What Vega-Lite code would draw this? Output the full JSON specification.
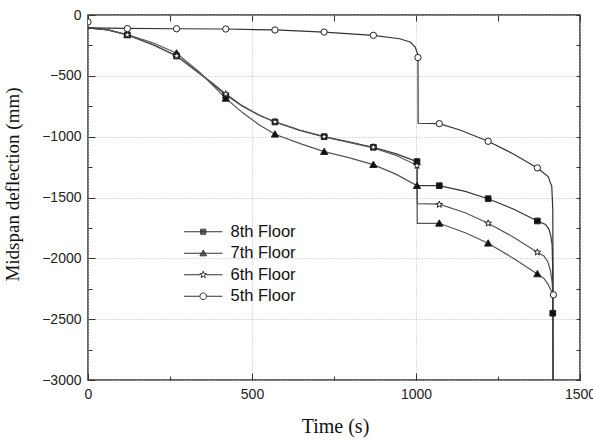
{
  "$schema": "https://vega.github.io/schema/vega-lite/v6.json",
  "width": 492,
  "height": 365,
  "autosize": "none",
  "padding": {"left": 88, "top": 15, "right": 13, "bottom": 60},
  "background": "white",
  "config": {
    "view": {"stroke": "#333", "strokeWidth": 1.5},
    "axis": {"labelFont": "Liberation Sans", "labelFontSize": 14, "labelColor": "#222", "titleFont": "Liberation Serif", "titleFontWeight": "normal", "titleColor": "#111", "tickColor": "#333", "domain": false}
  },
  "datasets": {
    "curves": [
      {"floor": "8th Floor", "t": 0, "d": -105}, {"floor": "8th Floor", "t": 60, "d": -122}, {"floor": "8th Floor", "t": 120, "d": -164}, {"floor": "8th Floor", "t": 200, "d": -245}, {"floor": "8th Floor", "t": 270, "d": -337}, {"floor": "8th Floor", "t": 340, "d": -480}, {"floor": "8th Floor", "t": 380, "d": -565}, {"floor": "8th Floor", "t": 420, "d": -655}, {"floor": "8th Floor", "t": 470, "d": -748}, {"floor": "8th Floor", "t": 520, "d": -822}, {"floor": "8th Floor", "t": 570, "d": -879}, {"floor": "8th Floor", "t": 645, "d": -945}, {"floor": "8th Floor", "t": 720, "d": -1000}, {"floor": "8th Floor", "t": 795, "d": -1042}, {"floor": "8th Floor", "t": 870, "d": -1087}, {"floor": "8th Floor", "t": 940, "d": -1142}, {"floor": "8th Floor", "t": 1003, "d": -1205}, {"floor": "8th Floor", "t": 1004, "d": -1403}, {"floor": "8th Floor", "t": 1071, "d": -1403}, {"floor": "8th Floor", "t": 1150, "d": -1450}, {"floor": "8th Floor", "t": 1220, "d": -1510}, {"floor": "8th Floor", "t": 1300, "d": -1598}, {"floor": "8th Floor", "t": 1370, "d": -1693}, {"floor": "8th Floor", "t": 1395, "d": -1722}, {"floor": "8th Floor", "t": 1405, "d": -1760}, {"floor": "8th Floor", "t": 1411, "d": -1815}, {"floor": "8th Floor", "t": 1415, "d": -1890}, {"floor": "8th Floor", "t": 1416.5, "d": -2050}, {"floor": "8th Floor", "t": 1417, "d": -2451}, {"floor": "8th Floor", "t": 1417.3, "d": -3000},
      {"floor": "7th Floor", "t": 0, "d": -105}, {"floor": "7th Floor", "t": 60, "d": -120}, {"floor": "7th Floor", "t": 120, "d": -160}, {"floor": "7th Floor", "t": 200, "d": -230}, {"floor": "7th Floor", "t": 270, "d": -314}, {"floor": "7th Floor", "t": 340, "d": -470}, {"floor": "7th Floor", "t": 380, "d": -575}, {"floor": "7th Floor", "t": 420, "d": -685}, {"floor": "7th Floor", "t": 470, "d": -800}, {"floor": "7th Floor", "t": 520, "d": -900}, {"floor": "7th Floor", "t": 570, "d": -980}, {"floor": "7th Floor", "t": 645, "d": -1055}, {"floor": "7th Floor", "t": 720, "d": -1123}, {"floor": "7th Floor", "t": 795, "d": -1172}, {"floor": "7th Floor", "t": 870, "d": -1230}, {"floor": "7th Floor", "t": 940, "d": -1310}, {"floor": "7th Floor", "t": 1003, "d": -1403}, {"floor": "7th Floor", "t": 1004, "d": -1712}, {"floor": "7th Floor", "t": 1071, "d": -1712}, {"floor": "7th Floor", "t": 1150, "d": -1790}, {"floor": "7th Floor", "t": 1220, "d": -1876}, {"floor": "7th Floor", "t": 1300, "d": -2005}, {"floor": "7th Floor", "t": 1370, "d": -2128}, {"floor": "7th Floor", "t": 1390, "d": -2165}, {"floor": "7th Floor", "t": 1402, "d": -2210}, {"floor": "7th Floor", "t": 1410, "d": -2255}, {"floor": "7th Floor", "t": 1417.5, "d": -2295},
      {"floor": "6th Floor", "t": 0, "d": -105}, {"floor": "6th Floor", "t": 60, "d": -122}, {"floor": "6th Floor", "t": 120, "d": -164}, {"floor": "6th Floor", "t": 200, "d": -248}, {"floor": "6th Floor", "t": 270, "d": -337}, {"floor": "6th Floor", "t": 340, "d": -478}, {"floor": "6th Floor", "t": 380, "d": -560}, {"floor": "6th Floor", "t": 420, "d": -648}, {"floor": "6th Floor", "t": 470, "d": -745}, {"floor": "6th Floor", "t": 520, "d": -820}, {"floor": "6th Floor", "t": 570, "d": -879}, {"floor": "6th Floor", "t": 645, "d": -948}, {"floor": "6th Floor", "t": 720, "d": -1003}, {"floor": "6th Floor", "t": 795, "d": -1047}, {"floor": "6th Floor", "t": 870, "d": -1092}, {"floor": "6th Floor", "t": 940, "d": -1155}, {"floor": "6th Floor", "t": 1003, "d": -1235}, {"floor": "6th Floor", "t": 1004, "d": -1550}, {"floor": "6th Floor", "t": 1071, "d": -1555}, {"floor": "6th Floor", "t": 1150, "d": -1625}, {"floor": "6th Floor", "t": 1220, "d": -1712}, {"floor": "6th Floor", "t": 1300, "d": -1830}, {"floor": "6th Floor", "t": 1370, "d": -1950}, {"floor": "6th Floor", "t": 1390, "d": -1980}, {"floor": "6th Floor", "t": 1402, "d": -2030}, {"floor": "6th Floor", "t": 1410, "d": -2100}, {"floor": "6th Floor", "t": 1415, "d": -2200}, {"floor": "6th Floor", "t": 1417.5, "d": -2290},
      {"floor": "5th Floor", "t": 0, "d": -105}, {"floor": "5th Floor", "t": 120, "d": -110}, {"floor": "5th Floor", "t": 270, "d": -113}, {"floor": "5th Floor", "t": 420, "d": -115}, {"floor": "5th Floor", "t": 570, "d": -123}, {"floor": "5th Floor", "t": 720, "d": -140}, {"floor": "5th Floor", "t": 870, "d": -167}, {"floor": "5th Floor", "t": 950, "d": -195}, {"floor": "5th Floor", "t": 982, "d": -222}, {"floor": "5th Floor", "t": 997, "d": -262}, {"floor": "5th Floor", "t": 1004, "d": -312}, {"floor": "5th Floor", "t": 1006, "d": -350}, {"floor": "5th Floor", "t": 1006.5, "d": -890}, {"floor": "5th Floor", "t": 1071, "d": -893}, {"floor": "5th Floor", "t": 1134, "d": -945}, {"floor": "5th Floor", "t": 1220, "d": -1038}, {"floor": "5th Floor", "t": 1297, "d": -1142}, {"floor": "5th Floor", "t": 1370, "d": -1257}, {"floor": "5th Floor", "t": 1403, "d": -1328}, {"floor": "5th Floor", "t": 1414, "d": -1410}, {"floor": "5th Floor", "t": 1417, "d": -1600}, {"floor": "5th Floor", "t": 1418, "d": -2300}, {"floor": "5th Floor", "t": 1418.3, "d": -3000}
    ],
    "markers": [
      {"floor": "8th Floor", "t": 120, "d": -164}, {"floor": "8th Floor", "t": 270, "d": -337}, {"floor": "8th Floor", "t": 420, "d": -665}, {"floor": "8th Floor", "t": 570, "d": -879}, {"floor": "8th Floor", "t": 720, "d": -1000}, {"floor": "8th Floor", "t": 870, "d": -1087}, {"floor": "8th Floor", "t": 1003, "d": -1205}, {"floor": "8th Floor", "t": 1071, "d": -1403}, {"floor": "8th Floor", "t": 1220, "d": -1510}, {"floor": "8th Floor", "t": 1370, "d": -1693}, {"floor": "8th Floor", "t": 1417, "d": -2451},
      {"floor": "7th Floor", "t": 120, "d": -160}, {"floor": "7th Floor", "t": 270, "d": -314}, {"floor": "7th Floor", "t": 420, "d": -685}, {"floor": "7th Floor", "t": 570, "d": -980}, {"floor": "7th Floor", "t": 720, "d": -1123}, {"floor": "7th Floor", "t": 870, "d": -1230}, {"floor": "7th Floor", "t": 1003, "d": -1403}, {"floor": "7th Floor", "t": 1071, "d": -1712}, {"floor": "7th Floor", "t": 1220, "d": -1876}, {"floor": "7th Floor", "t": 1370, "d": -2128},
      {"floor": "6th Floor", "t": 120, "d": -164}, {"floor": "6th Floor", "t": 270, "d": -337}, {"floor": "6th Floor", "t": 420, "d": -650}, {"floor": "6th Floor", "t": 570, "d": -879}, {"floor": "6th Floor", "t": 720, "d": -1000}, {"floor": "6th Floor", "t": 870, "d": -1087}, {"floor": "6th Floor", "t": 1003, "d": -1238}, {"floor": "6th Floor", "t": 1071, "d": -1558}, {"floor": "6th Floor", "t": 1220, "d": -1712}, {"floor": "6th Floor", "t": 1370, "d": -1950},
      {"floor": "5th Floor", "t": 0, "d": -57}, {"floor": "5th Floor", "t": 120, "d": -112}, {"floor": "5th Floor", "t": 270, "d": -113}, {"floor": "5th Floor", "t": 420, "d": -115}, {"floor": "5th Floor", "t": 570, "d": -123}, {"floor": "5th Floor", "t": 720, "d": -140}, {"floor": "5th Floor", "t": 870, "d": -167}, {"floor": "5th Floor", "t": 1006, "d": -350}, {"floor": "5th Floor", "t": 1071, "d": -893}, {"floor": "5th Floor", "t": 1220, "d": -1038}, {"floor": "5th Floor", "t": 1370, "d": -1257}, {"floor": "5th Floor", "t": 1419, "d": -2300}
    ]
  },
  "resolve": {
    "axis": {"x": "independent", "y": "independent"},
    "scale": {"shape": "independent"}
  },
  "layer": [
    {
      "data": {"name": "curves"},
      "mark": {"type": "line", "strokeWidth": 1.2, "clip": true},
      "encoding": {
        "x": {"field": "t", "type": "quantitative", "scale": {"domain": [0, 1500], "nice": false, "zero": false},
          "axis": {"orient": "bottom", "values": [0, 500, 1000, 1500], "format": "d", "title": "Time (s)", "titleFontSize": 20, "titleX": 247, "titleY": 36, "titleBaseline": "top", "tickSize": -7, "labelPadding": 14, "grid": true, "gridDash": [1, 2], "gridColor": "#bbb", "labelFlush": false}},
        "y": {"field": "d", "type": "quantitative", "scale": {"domain": [-3000, 0], "nice": false, "zero": false},
          "axis": {"orient": "left", "values": [0, -500, -1000, -1500, -2000, -2500, -3000], "format": "d", "title": "Midspan deflection (mm)", "titleFontSize": 19, "titleX": -66, "titleY": 169, "tickSize": -7, "labelPadding": 14, "grid": true, "gridDash": [1, 2], "gridColor": "#bbb", "labelFlush": false}},
        "color": {"field": "floor", "type": "nominal", "scale": {"domain": ["8th Floor", "7th Floor", "6th Floor", "5th Floor"], "range": ["#333", "#555", "#555", "#333"]}, "legend": null}
      }
    },
    {
      "data": {"name": "markers"},
      "mark": {"type": "point", "stroke": "#222", "strokeWidth": 1, "opacity": 1, "clip": true},
      "encoding": {
        "x": {"field": "t", "type": "quantitative",
          "axis": {"orient": "bottom", "values": [250, 750, 1250], "tickSize": -4, "labels": false, "grid": false, "title": null}},
        "y": {"field": "d", "type": "quantitative",
          "axis": {"orient": "left", "values": [-250, -750, -1250, -1750, -2250, -2750], "tickSize": -4, "labels": false, "grid": false, "title": null}},
        "shape": {"field": "floor", "type": "nominal", "legend": null,
          "scale": {"domain": ["8th Floor", "7th Floor", "6th Floor", "5th Floor"], "range": ["M-0.9,-0.9H0.9V0.9H-0.9Z", "M0,-1.1L1.15,0.9H-1.15Z", "M0,-1.1L0.26,-0.36L1.05,-0.34L0.42,0.14L0.65,0.89L0,0.44L-0.65,0.89L-0.42,0.14L-1.05,-0.34L-0.26,-0.36Z", "circle"]}},
        "fill": {"field": "floor", "type": "nominal", "legend": null,
          "scale": {"domain": ["8th Floor", "7th Floor", "6th Floor", "5th Floor"], "range": ["#111", "#111", "#fff", "#fff"]}},
        "size": {"value": 40}
      }
    },
    {
      "data": {"values": []},
      "mark": {"type": "point", "stroke": "#333", "strokeWidth": 1, "filled": false},
      "encoding": {
        "x": {"field": "t", "type": "quantitative",
          "axis": {"orient": "top", "values": [0, 250, 500, 750, 1000, 1250, 1500], "tickSize": -6, "labels": false, "grid": false, "title": null}},
        "y": {"field": "d", "type": "quantitative",
          "axis": {"orient": "right", "values": [0, -250, -500, -750, -1000, -1250, -1500, -1750, -2000, -2250, -2500, -2750, -3000], "tickSize": -4, "labels": false, "grid": false, "title": null}},
        "shape": {"field": "floor", "type": "nominal",
          "scale": {"domain": ["8th Floor", "7th Floor", "6th Floor", "5th Floor"], "range": [
            "M-6.4,0H6.4M-0.85,-0.85H0.85V0.85H-0.85ZM-0.85,-0.52H0.85M-0.85,-0.18H0.85M-0.85,0.15H0.85M-0.85,0.48H0.85",
            "M-6.4,0H6.4M0,-1.05L1.1,0.85H-1.1ZM-0.19,-0.72H0.19M-0.38,-0.39H0.38M-0.57,-0.06H0.57M-0.76,0.27H0.76M-0.95,0.6H0.95",
            "M-6.4,0H-1M1,0H6.4M0,-1.2L0.28,-0.39L1.14,-0.37L0.46,0.15L0.7,0.97L0,0.48L-0.7,0.97L-0.46,0.15L-1.14,-0.37L-0.28,-0.39Z",
            "M-6.4,0H-1.1M1.1,0H6.4M1.1,0A1.1,1.1 0 1,1 -1.1,0A1.1,1.1 0 1,1 1.1,0Z"]},
          "legend": {"title": null, "orient": "none", "legendX": 107, "legendY": 208.5, "padding": 0, "symbolSize": 36, "symbolStrokeColor": "#333", "symbolStrokeWidth": 1, "symbolOpacity": 1, "labelFont": "Liberation Sans", "labelFontSize": 16.5, "labelColor": "#111", "labelOffset": 19, "rowPadding": 4.5}}
      }
    }
  ]
}
